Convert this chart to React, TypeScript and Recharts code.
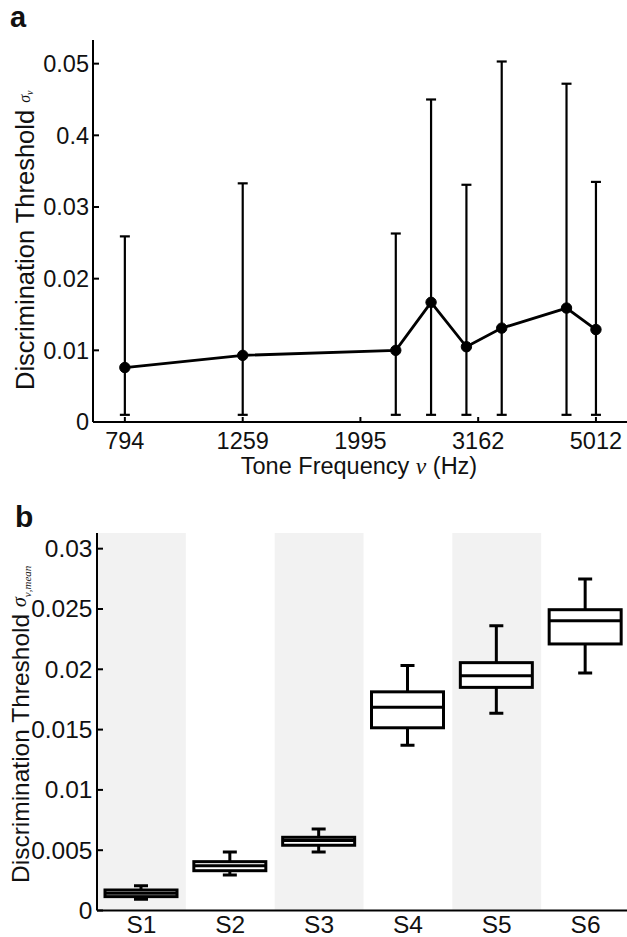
import React from 'react';
import {
  ComposedChart,
  LineChart,
  Line,
  Bar,
  XAxis,
  YAxis,
  ErrorBar,
  ReferenceArea,
  Label,
} from 'recharts';

const FONT = '"Liberation Sans", Arial, sans-serif';
const SERIF = '"Liberation Serif", "DejaVu Serif", serif';
const INK = '#111';

// ---------- Panel a data ----------
const toneFreqs = [794, 1259, 2291, 2630, 3020, 3467, 4467, 5012];
const thresholds = [0.0076, 0.0093, 0.01, 0.0167, 0.0105, 0.0131, 0.0159, 0.0129];
const upperBounds = [0.0259, 0.0333, 0.0263, 0.045, 0.0331, 0.0503, 0.0472, 0.0335];
const lowerBounds = [0.001, 0.001, 0.001, 0.001, 0.001, 0.001, 0.001, 0.001];
const freqTicks = [794, 1259, 1995, 3162, 5012];
const thresholdTicks = [0, 0.01, 0.02, 0.03, 0.04, 0.05];
const thresholdTickLabels = ['0', '0.01', '0.02', '0.03', '0.4', '0.05'];

// ---------- Panel b data ----------
const subjects = ['S1', 'S2', 'S3', 'S4', 'S5', 'S6'];
const whiskerLow = [0.00093, 0.00295, 0.00486, 0.01371, 0.01636, 0.01969];
const quart1 = [0.00115, 0.0033, 0.00541, 0.01515, 0.0185, 0.0221];
const medians = [0.00143, 0.00372, 0.0058, 0.01686, 0.01947, 0.02403];
const quart3 = [0.0017, 0.00405, 0.00607, 0.01813, 0.02055, 0.02494];
const whiskerHigh = [0.00206, 0.00486, 0.00676, 0.02032, 0.02361, 0.02748];
const shadedSubjects = ['S1', 'S3', 'S5'];
const meanTicks = [0, 0.005, 0.01, 0.015, 0.02, 0.025, 0.03];
const meanTickLabels = ['0', '0.005', '0.01', '0.015', '0.02', '0.025', '0.03'];

const lineData = toneFreqs.map((f, i) => ({
  freq: f,
  threshold: thresholds[i],
  err: [thresholds[i] - lowerBounds[i], upperBounds[i] - thresholds[i]],
}));

const boxData = subjects.map((s, i) => ({
  subject: s,
  low: whiskerLow[i],
  q1: quart1[i],
  median: medians[i],
  q3: quart3[i],
  high: whiskerHigh[i],
  iqr: quart3[i] - quart1[i],
}));

const Y_MAX_A = 0.0533;
const Y_MAX_B = 0.0313;
const TICK_FS = 23.5;

const YTickA = (props: any) => {
  const { x, y, payload } = props;
  const idx = thresholdTicks.indexOf(payload.value);
  return (
    <g>
      <line x1={x} y1={y} x2={x + 6} y2={y} stroke="#000" strokeWidth={2} />
      <text x={x - 4} y={y + 8.3} textAnchor="end" fontFamily={FONT} fontSize={TICK_FS} fill={INK}>
        {thresholdTickLabels[idx]}
      </text>
    </g>
  );
};

const XTickA = (props: any) => {
  const { x, y, payload } = props;
  return (
    <g>
      <line x1={x} y1={y} x2={x} y2={y - 5} stroke="#000" strokeWidth={2} />
      <text x={x} y={y + 26.5} textAnchor="middle" fontFamily={FONT} fontSize={TICK_FS} fill={INK}>
        {String(payload.value)}
      </text>
    </g>
  );
};

const YTickB = (props: any) => {
  const { x, y, payload } = props;
  const idx = meanTicks.indexOf(payload.value);
  return (
    <g>
      <line x1={x} y1={y} x2={x + 6} y2={y} stroke="#000" strokeWidth={2} />
      <text x={x - 4.5} y={y + 8.5} textAnchor="end" fontFamily={FONT} fontSize={24.5} fill={INK}>
        {meanTickLabels[idx]}
      </text>
    </g>
  );
};

const XTickB = (props: any) => {
  const { x, y, payload } = props;
  return (
    <text x={x} y={y + 22} textAnchor="middle" fontFamily={FONT} fontSize={24.5} fill={INK}>
      {String(payload.value)}
    </text>
  );
};

const YTitleA = () => {
  return (
    <g>
      <text
        transform="translate(34,390) rotate(-90)"
        textAnchor="start"
        fontFamily={FONT}
        fontSize={25.5}
        fill={INK}
      >
        {'Discrimination Threshold '}
        <tspan fontFamily={SERIF} fontStyle="italic" fontSize={16} dy={-4}>
          σ
        </tspan>
        <tspan fontFamily={SERIF} fontStyle="italic" fontSize={10} dy={3}>
          ν
        </tspan>
      </text>
      <text x={10} y={27} fontFamily={FONT} fontWeight="bold" fontSize={29} fill={INK}>
        a
      </text>
    </g>
  );
};

const XTitleA = (props: any) => {
  const vb = props.viewBox || { x: 93, y: 422, width: 537, height: 60 };
  return (
    <text
      x={vb.x + vb.width / 2 - 2.5}
      y={vb.y + 51.5}
      textAnchor="middle"
      fontFamily={FONT}
      fontSize={23.5}
      fill={INK}
    >
      {'Tone Frequency '}
      <tspan fontFamily={SERIF} fontStyle="italic">
        ν
      </tspan>
      {' (Hz)'}
    </text>
  );
};

const YTitleB = () => {
  return (
    <g>
      <text
        transform="translate(29,393) rotate(-90)"
        textAnchor="start"
        fontFamily={FONT}
        fontSize={24.5}
        fill={INK}
      >
        {'Discrimination Threshold '}
        <tspan fontFamily={SERIF} fontStyle="italic" fontSize={20} dy={-3}>
          σ
        </tspan>
        <tspan fontFamily={SERIF} fontStyle="italic" fontSize={11} dy={5}>
          ν,mean
        </tspan>
      </text>
      <text x={15} y={37} fontFamily={FONT} fontWeight="bold" fontSize={30} fill={INK}>
        b
      </text>
    </g>
  );
};

const BoxShape = (props: any) => {
  const { x, y, width, height, payload } = props;
  if (!payload || !height) return <g />;
  const ppu = height / (payload.q3 - payload.q1);
  const cx = x + width / 2;
  const yMed = y + height - (payload.median - payload.q1) * ppu;
  const yHigh = y - (payload.high - payload.q3) * ppu;
  const yLow = y + height + (payload.q1 - payload.low) * ppu;
  const cap = 7;
  return (
    <g stroke="#000" strokeWidth={3} fill="none">
      <line x1={cx} y1={yHigh} x2={cx} y2={y} />
      <line x1={cx - cap} y1={yHigh} x2={cx + cap} y2={yHigh} />
      <line x1={cx} y1={y + height} x2={cx} y2={yLow} />
      <line x1={cx - cap} y1={yLow} x2={cx + cap} y2={yLow} />
      <rect x={x} y={y} width={width} height={height} fill="#fff" />
      <line x1={x} y1={yMed} x2={x + width} y2={yMed} />
    </g>
  );
};

const axisLine = { stroke: '#000', strokeWidth: 2 };

export default function App() {
  return (
    <div
      style={{
        position: 'absolute',
        left: 0,
        top: 0,
        width: 627,
        height: 937,
        overflow: 'hidden',
        background: '#fff',
      }}
    >
      <div style={{ position: 'absolute', left: 0, top: 0 }}>
        <LineChart
          width={632}
          height={490}
          data={lineData}
          margin={{ top: 40, right: 2, bottom: 8, left: 0 }}
        >
          <XAxis
            dataKey="freq"
            type="number"
            scale="log"
            domain={[701, 5726]}
            ticks={freqTicks}
            interval={0}
            allowDataOverflow
            height={60}
            axisLine={axisLine}
            tickLine={false}
            tickSize={0}
            tickMargin={0}
            tick={<XTickA />}
          >
            <Label content={<XTitleA />} />
          </XAxis>
          <YAxis
            type="number"
            domain={[0, Y_MAX_A]}
            ticks={thresholdTicks}
            interval={0}
            allowDataOverflow
            width={93}
            axisLine={axisLine}
            tickLine={false}
            tickSize={0}
            tickMargin={0}
            tick={<YTickA />}
          >
            <Label content={<YTitleA />} />
          </YAxis>
          <Line
            dataKey="threshold"
            stroke="#000"
            strokeWidth={2.8}
            dot={{ r: 5.2, fill: '#000', stroke: '#000', strokeWidth: 1 }}
            isAnimationActive={false}
          >
            <ErrorBar dataKey="err" direction="y" width={5} stroke="#000" strokeWidth={2.2} />
          </Line>
        </LineChart>
      </div>
      <div style={{ position: 'absolute', left: 0, top: 490 }}>
        <ComposedChart
          width={632}
          height={447}
          data={boxData}
          margin={{ top: 43, right: 2, bottom: 0, left: 0 }}
        >
          {shadedSubjects.map((s) => (
            <ReferenceArea
              key={s}
              x1={s}
              x2={s}
              y1={0}
              y2={Y_MAX_B}
              fill="#f2f2f2"
              fillOpacity={1}
              stroke="none"
            />
          ))}
          <XAxis
            dataKey="subject"
            type="category"
            height={26.5}
            axisLine={axisLine}
            tickLine={false}
            tickSize={0}
            tickMargin={0}
            interval={0}
            tick={<XTickB />}
          />
          <YAxis
            type="number"
            domain={[0, Y_MAX_B]}
            ticks={meanTicks}
            interval={0}
            allowDataOverflow
            width={97}
            axisLine={axisLine}
            tickLine={false}
            tickSize={0}
            tickMargin={0}
            tick={<YTickB />}
          >
            <Label content={<YTitleB />} />
          </YAxis>
          <Bar dataKey="q1" stackId="box" fill="#fff" fillOpacity={0} barSize={72} isAnimationActive={false} />
          <Bar dataKey="iqr" stackId="box" barSize={72} shape={<BoxShape />} isAnimationActive={false} />
        </ComposedChart>
      </div>
    </div>
  );
}
